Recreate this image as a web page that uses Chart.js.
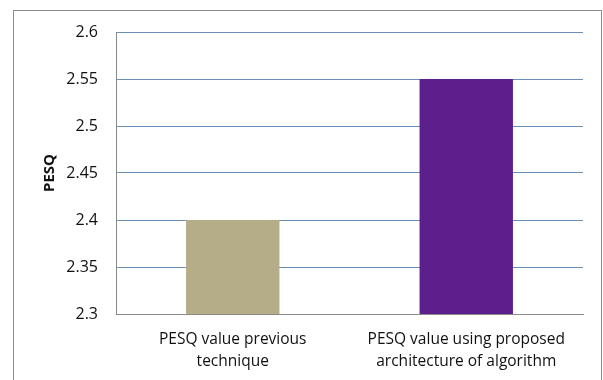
<!DOCTYPE html>
<html lang="en">
<head>
  <meta charset="UTF-8">
  <title>PESQ</title>
  <script src="https://cdn.jsdelivr.net/npm/chart.js"></script>
  <style>
    html, body { margin: 0; padding: 0; background: #fff; }
    #wrap { width: 603px; height: 380px; position: relative; }
  </style>
</head>
<body>
  <div id="wrap"><canvas id="pesqChart" width="603" height="380"></canvas></div>
  <script>
    // datos
    const categories = [
      ['PESQ value previous', 'technique'],
      ['PESQ value using proposed', 'architecture of algorithm']
    ];
    const pesqValues = [2.4, 2.55];
    const barColors = ['#b5ad88', '#5c1f8c'];
    const yMin = 2.3;
    const yMax = 2.6;
    const yStep = 0.05;
    const gridColor = '#6a8fb8';

    // marco exterior gris
    const frame = {
      id: 'frame',
      beforeDraw(chart) {
        const c = chart.ctx;
        c.save();
        c.strokeStyle = '#8c8c8c';
        c.lineWidth = 1;
        c.strokeRect(13.5, 10.5, 588, 400);
        c.restore();
      }
    };

    const ctx = document.getElementById('pesqChart').getContext('2d');
    new Chart(ctx, {
      type: 'bar',
      data: {
        labels: categories,
        datasets: [{
          data: pesqValues,
          backgroundColor: barColors,
          barPercentage: 0.4,
          categoryPercentage: 1
        }]
      },
      plugins: [frame],
      options: {
        responsive: false,
        animation: false,
        layout: { padding: { left: 14, top: 32, right: 20, bottom: 0 } },
        plugins: { legend: { display: false }, tooltip: { enabled: false } },
        scales: {
          x: {
            grid: { display: false, drawTicks: false },
            border: { color: '#8a8a8a', width: 1 },
            ticks: {
              color: '#111',
              padding: 14,
              maxRotation: 0,
              font: { family: 'Open Sans', size: 15.5, lineHeight: 1.45 }
            },
            afterFit(s) { s.height = 66; }
          },
          y: {
            min: yMin,
            max: yMax,
            grid: { color: gridColor, lineWidth: 1, drawTicks: false },
            border: { color: '#8a8a8a', width: 1 },
            ticks: {
              stepSize: yStep,
              color: '#111',
              padding: 18,
              font: { family: 'Open Sans', size: 16 },
              callback: v => String(Math.round(v * 100) / 100)
            },
            title: {
              display: true,
              text: 'PESQ',
              color: '#111',
              padding: { top: 27, bottom: 0 },
              font: { family: 'Open Sans', size: 15, weight: 'bold' }
            },
            afterFit(s) { s.width = 102; }
          }
        }
      }
    });
  </script>
</body>
</html>
